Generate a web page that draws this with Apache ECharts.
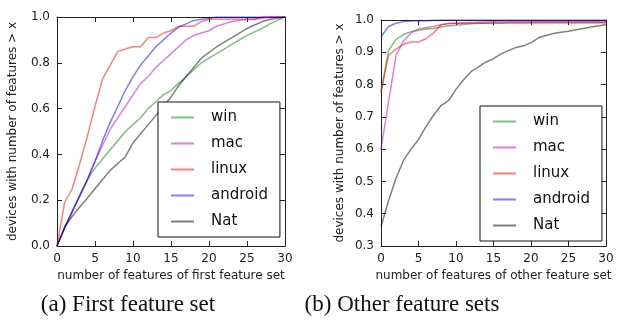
<!DOCTYPE html>
<html>
<head>
<meta charset="utf-8">
<script src="https://cdn.jsdelivr.net/npm/echarts@6/dist/echarts.min.js"></script>
<style>html,body{margin:0;padding:0;background:#fff}#c{width:626px;height:327px}</style>
</head>
<body>
<div id="c"></div>
<script>
// ---- data ----
const xs = [0,1,2,3,4,5,6,7,8,9,10,11,12,13,14,15,16,17,18,19,20,21,22,23,24,25,26,27,28,29,30];
const seriesNames = ['win','mac','linux','android','Nat'];

// (a) First feature set
const firstWin     = [0,0.08,0.15,0.22,0.29,0.34,0.38,0.42,0.46,0.50,0.53,0.56,0.60,0.63,0.66,0.68,0.71,0.74,0.77,0.80,0.82,0.84,0.86,0.88,0.90,0.92,0.935,0.95,0.97,0.985,1.0];
const firstMac     = [0,0.08,0.15,0.22,0.29,0.37,0.44,0.51,0.56,0.61,0.66,0.71,0.74,0.78,0.81,0.84,0.87,0.90,0.92,0.93,0.94,0.96,0.97,0.98,0.985,0.99,0.99,0.995,1.0,1.0,1.0];
const firstLinux   = [0,0.19,0.25,0.36,0.48,0.61,0.73,0.79,0.85,0.86,0.87,0.87,0.91,0.91,0.93,0.94,0.96,0.96,0.96,0.98,0.99,0.99,0.99,0.99,0.99,0.99,0.99,1.0,1.0,1.0,1.0];
const firstAndroid = [0,0.08,0.15,0.22,0.29,0.37,0.46,0.54,0.61,0.68,0.74,0.79,0.83,0.87,0.90,0.93,0.955,0.97,0.985,0.99,0.995,1.0,1.0,1.0,1.0,1.0,1.0,1.0,1.0,1.0,1.0];
const firstNat     = [0,0.08,0.13,0.17,0.21,0.25,0.29,0.33,0.36,0.39,0.45,0.49,0.53,0.57,0.61,0.65,0.70,0.74,0.78,0.82,0.845,0.87,0.89,0.91,0.93,0.95,0.965,0.98,0.99,0.995,1.0];

// (b) Other feature sets
const otherWin     = [0.78,0.905,0.94,0.955,0.964,0.968,0.972,0.974,0.978,0.982,0.984,0.986,0.988,0.99,0.99,0.991,0.991,0.992,0.992,0.992,0.992,0.993,0.993,0.993,0.993,0.993,0.993,0.993,0.993,0.993,0.993];
const otherMac     = [0.6,0.745,0.89,0.935,0.96,0.972,0.976,0.98,0.985,0.988,0.99,0.991,0.992,0.993,0.994,0.995,0.995,0.995,0.995,0.995,0.995,0.995,0.995,0.995,0.995,0.995,0.995,0.995,0.995,0.995,0.995];
const otherLinux   = [0.775,0.89,0.91,0.925,0.932,0.932,0.942,0.96,0.985,0.99,0.99,0.99,0.99,0.99,0.99,0.991,0.991,0.991,0.991,0.991,0.991,0.991,0.991,0.991,0.991,0.991,0.991,0.991,0.991,0.991,0.991];
const otherAndroid = [0.948,0.98,0.99,0.995,0.997,0.998,0.998,0.999,1.0,1.0,1.0,1.0,1.0,1.0,1.0,1.0,1.0,1.0,1.0,1.0,1.0,1.0,1.0,1.0,1.0,1.0,1.0,1.0,1.0,1.0,1.0];
const otherNat     = [0.36,0.44,0.51,0.565,0.60,0.63,0.67,0.705,0.735,0.75,0.785,0.815,0.84,0.855,0.87,0.88,0.895,0.905,0.915,0.92,0.93,0.945,0.952,0.958,0.962,0.965,0.97,0.974,0.978,0.982,0.985];

const xTicks = [0,5,10,15,20,25,30];
const firstYTicks = [0.0,0.2,0.4,0.6,0.8,1.0];
const otherYTicks = [0.3,0.4,0.5,0.6,0.7,0.8,0.9,1.0];

const xNameFirst = 'number of features of first feature set';
const xNameOther = 'number of features of other feature set';
const yName = 'devices with number of features > x';
const captionA = '(a) First feature set';
const captionB = '(b) Other feature sets';

// ---- styles ----
const colors = ['rgba(0,128,0,0.5)','rgba(191,0,191,0.5)','rgba(255,0,0,0.5)','rgba(0,0,255,0.5)','rgba(0,0,0,0.5)'];
const FONT = 'DejaVu Sans';
const AX = '#222';

function pairs(v){ return xs.map((x,i)=>[x, v[i]]); }

function axisCommon(min, max, interval, showLabels, nameCfg){
  return Object.assign({
    type:'value', min:min, max:max, interval:interval,
    axisLine:{show:true, onZero:false, lineStyle:{color:AX, width:1}},
    axisTick:{show:true, inside:true, length:5, lineStyle:{color:AX}},
    splitLine:{show:false},
    axisLabel:{show:showLabels, color:AX, fontFamily:FONT, fontSize:12, margin:7,
      formatter: function(v){ return interval < 1 ? (Math.round(v*10)/10).toFixed(1) : String(Math.round(v)); }}
  }, nameCfg || {});
}

const firstSets = [firstWin, firstMac, firstLinux, firstAndroid, firstNat];
const otherSets = [otherWin, otherMac, otherLinux, otherAndroid, otherNat];

const series = [];
firstSets.forEach((d,i)=>series.push({name:seriesNames[i], type:'line', xAxisIndex:0, yAxisIndex:0, data:pairs(d), symbol:'none', lineStyle:{color:colors[i], width:1.5}, itemStyle:{color:colors[i]}, animation:false}));
otherSets.forEach((d,i)=>series.push({name:seriesNames[i], type:'line', xAxisIndex:2, yAxisIndex:2, data:pairs(d), symbol:'none', lineStyle:{color:colors[i], width:1.5}, itemStyle:{color:colors[i]}, animation:false}));

function legendCfg(left, top){
  return {
    data: seriesNames, orient:'vertical', left:left, top:top,
    itemWidth:23, itemHeight:14, itemGap:11,
    padding:[8,12,8,12],
    borderColor:'#111', borderWidth:1, borderRadius:0, backgroundColor:'#fff',
    selectedMode:false,
    itemStyle:{opacity:0},
    textStyle:{fontFamily:FONT, fontSize:15, color:'#111', padding:[0,0,0,12]}
  };
}

const chart = echarts.init(document.getElementById('c'), null, {renderer:'canvas'});
chart.setOption({
  animation:false,
  backgroundColor:'#fff',
  grid:[
    {left:57, top:17, width:228, height:229},
    {left:381, top:20, width:225, height:226}
  ],
  xAxis:[
    axisCommon(0,30,5,true,{gridIndex:0, position:'bottom', name:xNameFirst, nameLocation:'middle', nameGap:20, nameTextStyle:{fontFamily:FONT, fontSize:12, color:AX}}),
    axisCommon(0,30,5,false,{gridIndex:0, position:'top'}),
    axisCommon(0,30,5,true,{gridIndex:1, position:'bottom', name:xNameOther, nameLocation:'middle', nameGap:20, nameTextStyle:{fontFamily:FONT, fontSize:12, color:AX}}),
    axisCommon(0,30,5,false,{gridIndex:1, position:'top'})
  ],
  yAxis:[
    axisCommon(0,1,0.2,true,{gridIndex:0, position:'left', name:yName, nameLocation:'middle', nameGap:38, nameTextStyle:{fontFamily:FONT, fontSize:12, color:AX}}),
    axisCommon(0,1,0.2,false,{gridIndex:0, position:'right'}),
    axisCommon(0.3,1,0.1,true,{gridIndex:1, position:'left', name:yName, nameLocation:'middle', nameGap:35, nameTextStyle:{fontFamily:FONT, fontSize:12, color:AX}}),
    axisCommon(0.3,1,0.1,false,{gridIndex:1, position:'right'})
  ],
  legend:[legendCfg(158,102), legendCfg(480,106)],
  series: series,
  graphic:[
    {type:'text', style:{text:captionA, font:'23px "Liberation Serif"', fill:'#111', textAlign:'center', textVerticalAlign:'middle', x:128, y:305}},
    {type:'text', style:{text:captionB, font:'23px "Liberation Serif"', fill:'#111', textAlign:'center', textVerticalAlign:'middle', x:402, y:305}}
  ]
});
</script>
</body>
</html>
